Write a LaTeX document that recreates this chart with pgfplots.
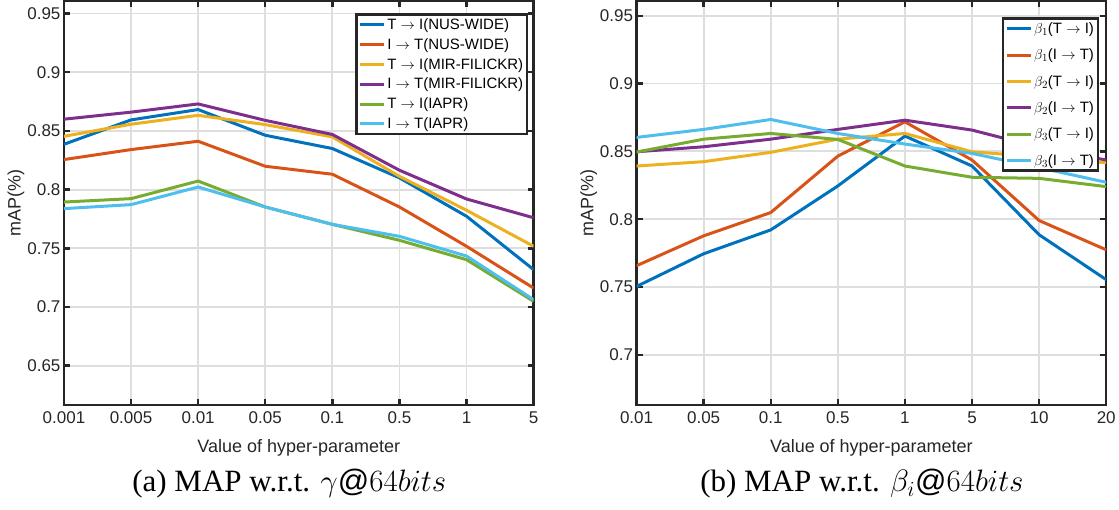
\documentclass[border=0pt]{standalone}
\usepackage{graphicx}
\usepackage{fontspec}
\setmainfont{Liberation Sans}
\newfontfamily\capfont{Liberation Serif}
\usepackage{pgfplots}
\pgfplotsset{compat=1.18}
\definecolor{mblue}{rgb}{0,0.447,0.741}
\definecolor{morange}{rgb}{0.850,0.325,0.098}
\definecolor{myellow}{rgb}{0.929,0.694,0.125}
\definecolor{mpurple}{rgb}{0.494,0.184,0.556}
\definecolor{mgreen}{rgb}{0.466,0.674,0.188}
\definecolor{mcyan}{rgb}{0.301,0.745,0.933}
\definecolor{axcol}{rgb}{0.15,0.15,0.15}
\pgfplotsset{
  myaxis/.style={
    scale only axis, width=470bp, height=404bp,
    xmin=0, xmax=7, xtick={0,...,7},
    grid=major, major grid style={line width=1.8bp, black!13},
    axis line style={line width=2.5bp, axcol},
    every tick/.style={line width=2.5bp, axcol},
    major tick length=6bp, tick align=inside,
    ticklabel style={font=\fontsize{17bp}{20bp}\selectfont, text=axcol},
    xticklabel shift=3bp,
    label style={font=\fontsize{18bp}{21bp}\selectfont, text=axcol},
    xlabel style={at={(axis description cs:0.5,-0.106)}, anchor=center},
    ylabel style={at={(axis description cs:-0.102,0.5)}, anchor=center},
    /pgf/number format/assume math mode=true,
    xlabel={Value of hyper-parameter},
    ylabel={mAP(\%)},
    legend cell align=left,
    legend image code/.code={\draw[#1] (0bp,0bp) -- (24bp,0bp);},
    legend style={font=\fontsize{15bp}{18bp}\selectfont, draw=axcol, line width=2.5bp, inner sep=2bp},
    every axis plot/.append style={line width=3bp},
  }
}
\begin{document}
\begin{tikzpicture}
\path (-64bp,-105bp) rectangle (1055bp,405bp);
\begin{axis}[myaxis, at={(0bp,0bp)}, anchor=south west,
  ymin=0.6165, ymax=0.9605, ytick={0.65,0.7,0.75,0.8,0.85,0.9,0.95},
  xticklabels={0.001,0.005,0.01,0.05,0.1,0.5,1,5},
  legend style={at={(0.989,0.970)}, anchor=north east, row sep=3.5bp}]
\addplot[mblue] coordinates {(0,0.8386)(1,0.8594)(2,0.8682)(3,0.8463)(4,0.8350)(5,0.8100)(6,0.7773)(7,0.7318)};
\addplot[morange] coordinates {(0,0.8256)(1,0.8341)(2,0.8412)(3,0.8199)(4,0.8131)(5,0.7852)(6,0.7517)(7,0.7161)};
\addplot[myellow] coordinates {(0,0.8454)(1,0.8557)(2,0.8633)(3,0.8554)(4,0.8449)(5,0.8113)(6,0.7824)(7,0.7517)};
\addplot[mpurple] coordinates {(0,0.8600)(1,0.8660)(2,0.8730)(3,0.8590)(4,0.8470)(5,0.8165)(6,0.7920)(7,0.7760)};
\addplot[mgreen] coordinates {(0,0.7894)(1,0.7923)(2,0.8073)(3,0.7852)(4,0.7704)(5,0.7568)(6,0.7403)(7,0.7048)};
\addplot[mcyan] coordinates {(0,0.7838)(1,0.7872)(2,0.8022)(3,0.7852)(4,0.7704)(5,0.7602)(6,0.7434)(7,0.7062)};
\legend{T $\rightarrow$ I(NUS-WIDE), I $\rightarrow$ T(NUS-WIDE), T $\rightarrow$ I(MIR-FILICKR), I $\rightarrow$ T(MIR-FILICKR), T $\rightarrow$ I(IAPR), I $\rightarrow$ T(IAPR)}
\end{axis}
\begin{axis}[myaxis, at={(573bp,0bp)}, anchor=south west,
  ymin=0.663, ymax=0.9607, ytick={0.7,0.75,0.8,0.85,0.9,0.95},
  xticklabels={0.01,0.05,0.1,0.5,1,5,10,20},
  legend style={at={(0.985,0.960)}, anchor=north east, row sep=10bp}]
\addplot[mblue] coordinates {(0,0.7504)(1,0.7745)(2,0.7921)(3,0.8245)(4,0.8613)(5,0.8392)(6,0.7885)(7,0.7554)};
\addplot[morange] coordinates {(0,0.7657)(1,0.7877)(2,0.8049)(3,0.8465)(4,0.8718)(5,0.8436)(6,0.7990)(7,0.7774)};
\addplot[myellow] coordinates {(0,0.8392)(1,0.8424)(2,0.8493)(3,0.8590)(4,0.8632)(5,0.8497)(6,0.8460)(7,0.8416)};
\addplot[mpurple] coordinates {(0,0.8497)(1,0.8534)(2,0.8590)(3,0.8662)(4,0.8730)(5,0.8657)(6,0.8530)(7,0.8436)};
\addplot[mgreen] coordinates {(0,0.8495)(1,0.8590)(2,0.8632)(3,0.8588)(4,0.8392)(5,0.8309)(6,0.8301)(7,0.8240)};
\addplot[mcyan] coordinates {(0,0.8603)(1,0.8662)(2,0.8735)(3,0.8632)(4,0.8554)(5,0.8485)(6,0.8380)(7,0.8272)};
\legend{$\beta_1$(T $\rightarrow$ I), $\beta_1$(I $\rightarrow$ T), $\beta_2$(T $\rightarrow$ I), $\beta_2$(I $\rightarrow$ T), $\beta_3$(T $\rightarrow$ I), $\beta_3$(I $\rightarrow$ T)}
\end{axis}
\node at (225.5bp,-79bp) {\scalebox{1.5}{\capfont\fontsize{20.74pt}{24pt}\selectfont (a) MAP w.r.t. $\gamma@64bits$}};
\node at (798.5bp,-79bp) {\scalebox{1.5}{\capfont\fontsize{20.74pt}{24pt}\selectfont (b) MAP w.r.t. $\beta_i@64bits$}};
\end{tikzpicture}
\end{document}
